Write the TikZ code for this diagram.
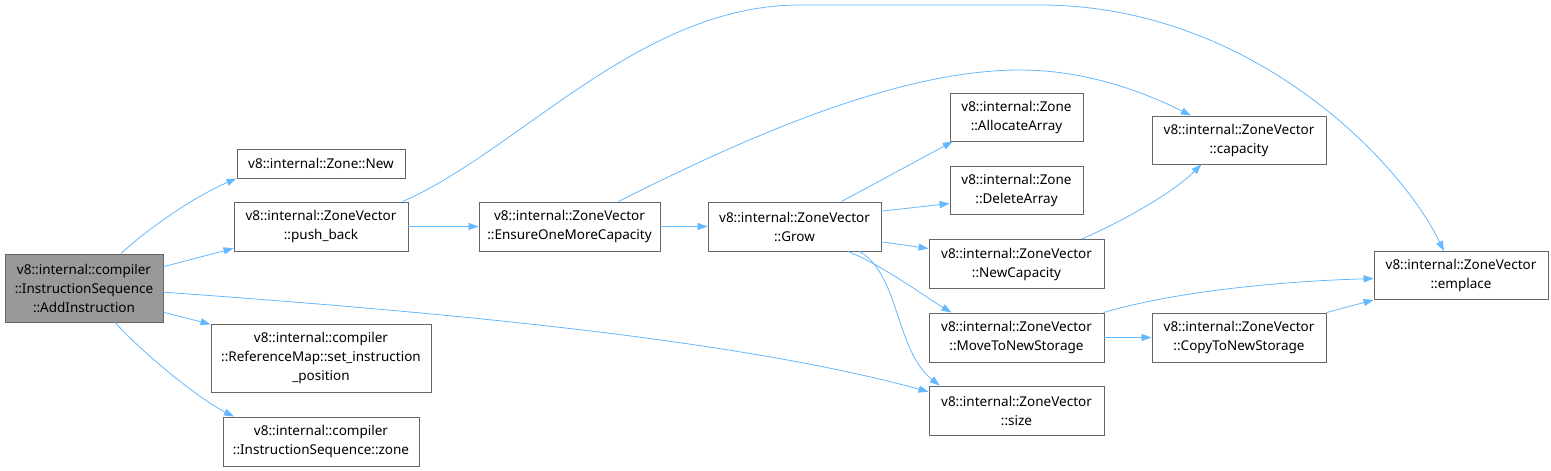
\documentclass[tikz,border=0pt]{standalone}
\usepackage{fontspec}
\setmainfont{Noto Sans}
\usetikzlibrary{arrows.meta}
\definecolor{cgblue}{HTML}{63B8FF}
\definecolor{cggray}{HTML}{666666}
\definecolor{cgmain}{HTML}{999999}
\tikzset{
  fn/.style={draw=cggray, fill=white, line width=0.9pt, align=center, inner sep=2pt,
    minimum height=49pt, font=\fontsize{13.5}{19}\selectfont},
  call/.style={draw=cgblue, line width=0.8pt, -{Triangle[length=10pt,width=7pt]}}
}
\begin{document}
\begin{tikzpicture}[x=1pt, y=-1pt]
  \useasboundingbox (0,0) rectangle (1551,471);
  \node[fn, fill=cgmain, minimum width=158pt, minimum height=68pt] (main) at (84,288) {v8::internal::compiler\\::InstructionSequence\\::AddInstruction};
  \node[fn, minimum width=168pt, minimum height=29pt] (znew) at (321,163.5) {v8::internal::Zone::New};
  \node[fn, minimum width=174pt] (pushb) at (321,226.5) {v8::internal::ZoneVector\\::push\_back};
  \node[fn, minimum width=220pt, minimum height=68pt] (refmap) at (321,358) {v8::internal::compiler\\::ReferenceMap::set\_instruction\\\_position};
  \node[fn, minimum width=196pt] (iszone) at (321,441.5) {v8::internal::compiler\\::InstructionSequence::zone};
  \node[fn, minimum width=181pt] (ensure) at (569.5,226.5) {v8::internal::ZoneVector\\::EnsureOneMoreCapacity};
  \node[fn, minimum width=173pt] (grow) at (794.5,226.5) {v8::internal::ZoneVector\\::Grow};
  \node[fn, minimum width=133pt, minimum height=48pt] (alloc) at (1016.5,117) {v8::internal::Zone\\::AllocateArray};
  \node[fn, minimum width=133pt, minimum height=48pt] (delarr) at (1016.5,190.5) {v8::internal::Zone\\::DeleteArray};
  \node[fn, minimum width=175pt] (newcap) at (1016.5,264) {v8::internal::ZoneVector\\::NewCapacity};
  \node[fn, minimum width=175pt] (move) at (1016.5,337.5) {v8::internal::ZoneVector\\::MoveToNewStorage};
  \node[fn, minimum width=175pt] (size) at (1016.5,410.5) {v8::internal::ZoneVector\\::size};
  \node[fn, minimum width=174pt, minimum height=48pt] (capa) at (1239,140) {v8::internal::ZoneVector\\::capacity};
  \node[fn, minimum width=174pt] (copy) at (1239,337.5) {v8::internal::ZoneVector\\::CopyToNewStorage};
  \node[fn, minimum width=174pt, minimum height=48pt] (emplace) at (1461,275.5) {v8::internal::ZoneVector\\::emplace};

  \draw[call] (main.43) .. controls +(35,-32) and +(-35,15) .. (znew.south west);
  \draw[call] (main.15) -- (pushb.194);
  \draw[call] (main.-3) .. controls +(250,18) and +(-200,-55) .. (size.168);
  \draw[call] (main.-17) -- (refmap.163);
  \draw[call] (main.-48) .. controls +(35,38) and +(-30,-15) .. (iszone.164);
  \draw[call] (pushb.east) -- (ensure.west);
  \draw[call] (pushb.17) .. controls (520,150) and (640,5) .. (800,5) -- (1040,5)
    .. controls (1250,5) and (1400,160) .. (emplace.125);
  \draw[call] (ensure.east) -- (grow.west);
  \draw[call] (ensure.27) .. controls (750,135) and (900,70) .. (1020,70)
    .. controls (1090,70) and (1150,95) .. (capa.153);
  \draw[call] (grow.28) -- (alloc.201);
  \draw[call] (grow.10) -- (delarr.191);
  \draw[call] (grow.-10) -- (newcap.170);
  \draw[call] (grow.-25) .. controls +(35,14) and +(-25,-15) .. (move.159);
  \draw[call] (grow.-21) .. controls (900,275) and (895,350) .. (size.162);
  \draw[call] (newcap.21) .. controls +(35,-15) and +(-30,30) .. (capa.213);
  \draw[call] (move.16) .. controls (1180,290) and (1290,281) .. (emplace.182);
  \draw[call] (move.east) -- (copy.west);
  \draw[call] (copy.north east) -- (emplace.south west);
\end{tikzpicture}
\end{document}
